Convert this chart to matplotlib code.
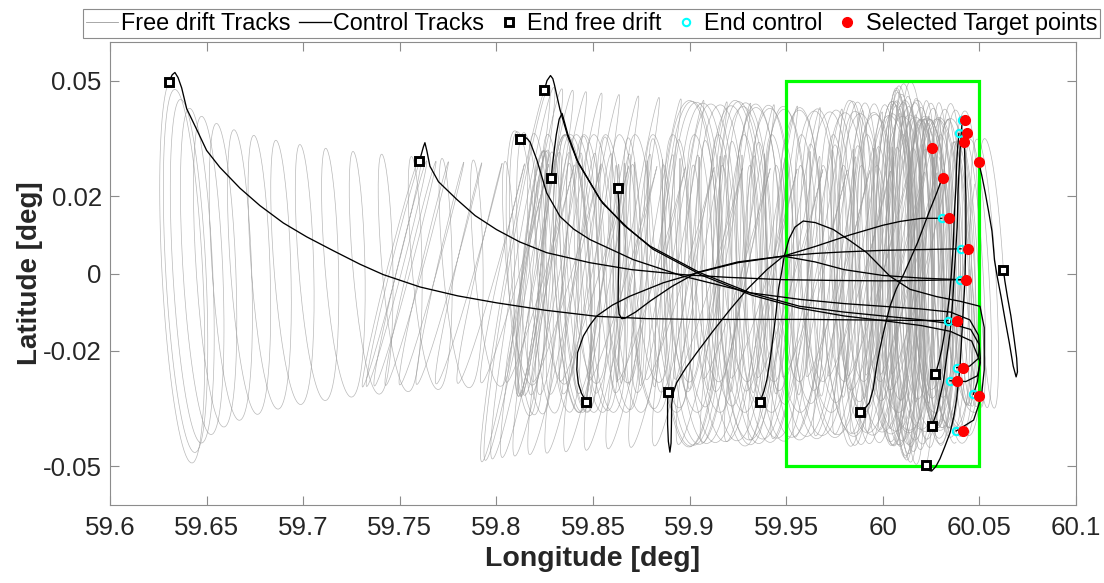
import numpy as np
import matplotlib

matplotlib.use("Agg")
import matplotlib.pyplot as plt
from matplotlib.lines import Line2D
from matplotlib.patches import Rectangle

plt.rcParams["font.family"] = ["Liberation Sans", "DejaVu Sans"]

# station-keeping window
box_lon = [59.95, 60.05]
box_lat = [-0.05, 0.05]

# end of free drift, one per track
end_drift_lon = [59.6305, 59.7601, 59.8122, 59.8248, 59.8284, 59.8628, 59.8464,
                 59.8888, 59.9364, 59.9882, 60.0272, 60.0255, 60.0222, 60.0624]
end_drift_lat = [0.0497, 0.0291, 0.0349, 0.0475, 0.0247, 0.0222, -0.0332,
                 -0.0306, -0.0332, -0.0359, -0.0261, -0.0395, -0.0497, 0.0010]

# free drift description: mean longitude at start, duration [days],
# time of the drift turn-around (fraction), share of the run spent near the start,
# inclination at start/end [deg] and how late it grows, longitude swing and tilt
# relative to inclination, branch at the end point
drift_start_lon = [60.00, 60.02, 60.03, 60.02, 60.04, 60.03, 60.045,
                   60.03, 60.04, 60.045, 60.04, 60.042, 60.035, 60.04]
drift_days = [30, 26, 22, 24, 22, 20, 21, 22, 16, 13, 9, 10, 11, 8]
drift_turn = [1.0, 1.0, 1.0, 1.0, 0.9, 1.0, 0.95, 1.0, 1.0, 1.0, 0.6, 0.6, 0.62, 0.0]
drift_dwell = [0.7, 0.8, 0.8, 0.8, 0.0, 0.8, 0.0, 0.6, 0.7, 0.6, 0.0, 0.0, 0.0, 0.0]
incl_start = [0.028, 0.026, 0.032, 0.040, 0.030, 0.034, 0.036,
              0.040, 0.040, 0.042, 0.040, 0.044, 0.044, 0.034]
incl_end = [0.0505, 0.0295, 0.037, 0.049, 0.032, 0.028, 0.036,
            0.045, 0.045, 0.045, 0.040, 0.045, 0.050, 0.035]
incl_growth = [4.0, 1.0, 1.0, 1.0, 1.0, 1.0, 1.0, 1.0, 1.0, 1.0, 1.0, 1.0, 1.0, 1.0]
lon_swing = [0.21, 0.08, 0.20, 0.10, 0.15, 0.05, 0.25, 0.33, 0.30, 0.20, 0.20, 0.20, 0.15, 0.15]
lon_tilt = [0.10, -0.5, 0.10, -0.35, -0.20, 0.0, 0.10, 0.0, 0.05, 0.0, 0.10, 0.0, 0.05, 0.10]
end_branch = [-1, 1, 1, -1, 1, 1, 1, -1, 1, 1, -1, 1, 1, 1]

# control tracks, from end of free drift to end of control
control_lon = [
    [59.6305, 59.6322, 59.6336, 59.6352, 59.6371, 59.6397, 59.6449, 59.650, 59.6569,
     59.6673, 59.6776, 59.6897, 59.7018, 59.7156, 59.7294, 59.7415, 59.7605, 59.7800,
     59.8001, 59.825, 59.852, 59.878, 59.9036, 59.935, 59.962, 60.000, 60.0337],
    [59.7601, 59.7612, 59.7622, 59.763, 59.7640, 59.7656, 59.770, 59.7795, 59.789,
     59.800, 59.812, 59.826, 59.8484, 59.870, 59.8967, 59.920, 59.9485, 59.975,
     60.000, 60.020, 60.0401],
    [59.8122, 59.8135, 59.8148, 59.8162, 59.8175, 59.8209, 59.826, 59.8329, 59.840,
     59.8484, 59.8708, 59.8967, 59.9313, 59.957, 59.980, 60.000, 60.020, 60.035,
     60.045, 60.0495, 60.0505, 60.049, 60.0469],
    [59.8248, 59.8262, 59.828, 59.8292, 59.830, 59.8329, 59.837, 59.8416, 59.8536,
     59.866, 59.8795, 59.9054, 59.9313, 59.957, 59.980, 60.000, 60.020, 60.035,
     60.0455, 60.050, 60.0495, 60.045, 60.0382],
    [59.8284, 59.8290, 59.8297, 59.831, 59.8325, 59.8340, 59.8370, 59.8425, 59.855,
     59.868, 59.881, 59.9065, 59.932, 59.957, 59.980, 60.000, 60.020, 60.035,
     60.046, 60.0505, 60.049, 60.043, 60.0348],
    [59.8628, 59.8634, 59.8636, 59.8634, 59.8631, 59.8630, 59.8635, 59.8648, 59.8665,
     59.872, 59.880, 59.891, 59.904, 59.925, 59.9485, 59.965, 59.983, 60.000,
     60.009, 60.020, 60.0305],
    [59.8464, 59.8440, 59.8424, 59.8416, 59.842, 59.845, 59.8485, 59.852, 59.860,
     59.869, 59.8864, 59.904, 59.925, 59.9485, 59.965, 59.980, 60.000, 60.020,
     60.0405],
    [59.8888, 59.8886, 59.8886, 59.8890, 59.8898, 59.8904, 59.8906, 59.8907, 59.8915,
     59.8933, 59.898, 59.9036, 59.912, 59.921, 59.930, 59.940, 59.9485, 59.965,
     59.980, 60.000, 60.020, 60.0401],
    [59.9364, 59.9385, 59.940, 59.9418, 59.9433, 59.9448, 59.946, 59.9475, 59.9490,
     59.9515, 59.9545, 59.9588, 59.9650, 59.9744, 59.9830, 59.9917, 60.0037, 60.0141,
     60.0279, 60.040, 60.0503, 60.0525, 60.0525, 60.051, 60.047, 60.0380],
    [59.9882, 59.9915, 59.993, 59.995, 59.9968, 59.9985, 60.0003, 60.0037, 60.0070,
     60.011, 60.0145, 60.018, 60.024, 60.028, 60.0308],
    [60.0272, 60.0290, 60.0305, 60.0318, 60.033, 60.0345, 60.0355, 60.0365, 60.037,
     60.0378, 60.0382, 60.0387, 60.0394],
    [60.0255, 60.0265, 60.0279, 60.0296, 60.0313, 60.0330, 60.0348, 60.0362, 60.037,
     60.0385, 60.039, 60.040, 60.0411],
    [60.0222, 60.0235, 60.0253, 60.0275, 60.0296, 60.0320, 60.0348, 60.0368, 60.0382,
     60.0400, 60.041, 60.0425, 60.043, 60.043, 60.0425, 60.0422],
    [60.0624, 60.0632, 60.0645, 60.0663, 60.068, 60.0693, 60.0697, 60.069, 60.0675,
     60.0655, 60.0633, 60.0612, 60.0593, 60.0578, 60.0572, 60.0565, 60.0548, 60.053,
     60.0512, 60.0496],
]
control_lat = [
    [0.0497, 0.0515, 0.0521, 0.0508, 0.0481, 0.0427, 0.0373, 0.0319, 0.0275,
     0.0221, 0.0176, 0.0131, 0.0095, 0.0059, 0.0024, -0.0003, -0.0035, -0.0058,
     -0.0076, -0.0095, -0.0111, -0.0117, -0.0119, -0.0119, -0.0119, -0.0121, -0.0122],
    [0.0291, 0.0310, 0.0328, 0.0339, 0.0318, 0.0278, 0.0238, 0.0192, 0.0150,
     0.0114, 0.0082, 0.0054, 0.0028, 0.0010, -0.0003, -0.0010, -0.0016, -0.0018,
     -0.0019, -0.0018, -0.0016],
    [0.0349, 0.0354, 0.0354, 0.0348, 0.034, 0.0295, 0.0209, 0.0148, 0.0115,
     0.0088, 0.0036, -0.0007, -0.005, -0.0067, -0.0078, -0.0085, -0.0092, -0.0100,
     -0.0120, -0.0160, -0.0220, -0.0280, -0.0313],
    [0.0475, 0.050, 0.0513, 0.0505, 0.049, 0.0425, 0.0355, 0.0295, 0.0192,
     0.0125, 0.0071, 0.0002, -0.005, -0.0085, -0.0100, -0.0110, -0.0120, -0.0130,
     -0.0145, -0.0185, -0.0220, -0.0240, -0.0244],
    [0.0247, 0.028, 0.031, 0.036, 0.040, 0.0415, 0.0360, 0.0285, 0.0182,
     0.0118, 0.0063, -0.0005, -0.0056, -0.009, -0.0110, -0.0122, -0.0135, -0.0150,
     -0.0175, -0.0230, -0.0265, -0.0280, -0.0278],
    [0.0222, 0.0180, 0.0120, 0.0050, -0.002, -0.008, -0.0105, -0.0117, -0.0116,
     -0.0100, -0.0070, -0.0033, 0.0003, 0.0030, 0.0045, 0.0070, 0.0100, 0.0125,
     0.0135, 0.0143, 0.0143],
    [-0.0332, -0.0310, -0.0285, -0.0249, -0.0205, -0.0162, -0.0133, -0.011, -0.0082,
     -0.0059, -0.0024, 0.0002, 0.0028, 0.0045, 0.0052, 0.0056, 0.0060, 0.0062,
     0.0064],
    [-0.0306, -0.0340, -0.0390, -0.0435, -0.0463, -0.0440, -0.0390, -0.0340, -0.0310,
     -0.0283, -0.0245, -0.0206, -0.0150, -0.0093, -0.0040, 0.0010, 0.0045, 0.0030,
     0.0010, -0.0005, -0.0012, -0.0016],
    [-0.0332, -0.0305, -0.0275, -0.0220, -0.0162, -0.0100, -0.0041, 0.0000, 0.0045,
     0.0090, 0.0120, 0.0136, 0.0132, 0.0114, 0.0085, 0.0054, -0.0007, -0.0041,
     -0.0060, -0.0072, -0.0085, -0.0140, -0.0250, -0.0320, -0.0380, -0.0408],
    [-0.0359, -0.0345, -0.0335, -0.0300, -0.0240, -0.0195, -0.0154, -0.0085, -0.0040,
     0.0000, 0.0040, 0.0080, 0.0160, 0.0210, 0.0248],
    [-0.0261, -0.0230, -0.0197, -0.0160, -0.0119, -0.0060, 0.0000, 0.0075, 0.0150,
     0.0220, 0.0280, 0.0325, 0.0363],
    [-0.0395, -0.0380, -0.0360, -0.0320, -0.0283, -0.0220, -0.0154, -0.0070, 0.0000,
     0.0120, 0.0220, 0.0320, 0.0397],
    [-0.0497, -0.0510, -0.0512, -0.0500, -0.0480, -0.0450, -0.0413, -0.0370, -0.0326,
     -0.0240, -0.0150, -0.0020, 0.0100, 0.0200, 0.0290, 0.0340],
    [0.0010, -0.0020, -0.0060, -0.0110, -0.0170, -0.0220, -0.0255, -0.0268, -0.0240,
     -0.0180, -0.0120, -0.0060, -0.0010, 0.0035, 0.0071, 0.0110, 0.0160, 0.0210,
     0.0255, 0.0288],
]

# end of control
end_control_lon = [60.0411, 60.0394, 60.0422, 60.0496, 60.0308, 60.0305,
                   60.0405, 60.0401, 60.0337, 60.0382, 60.0348, 60.0469, 60.0380]
end_control_lat = [0.0397, 0.0363, 0.0340, 0.0288, 0.0248, 0.0143,
                   0.0064, -0.0016, -0.0122, -0.0244, -0.0278, -0.0313, -0.0408]

# selected target points
target_lon = [60.0425, 60.0434, 60.0422, 60.0255, 60.0496, 60.0310, 60.0343,
              60.0441, 60.0431, 60.0386, 60.0417, 60.0386, 60.0496, 60.0417]
target_lat = [0.0397, 0.0363, 0.0340, 0.0326, 0.0288, 0.0248, 0.0143,
              0.0064, -0.0016, -0.0122, -0.0244, -0.0278, -0.0318, -0.0408]


def mean_drift(i, t, mean_end):
    """Mean longitude: parabolic drift, optionally lingering near the start."""
    n = drift_days[i]
    ls = drift_start_lon[i]
    if drift_turn[i] >= 1.0:
        u = t / n
        w = drift_dwell[i]
        g = (1 - w) * (1 - (1 - u) ** 2) + w * (3 * u ** 2 - 2 * u ** 3)
        return ls + (mean_end - ls) * g
    tv = drift_turn[i] * n
    k = (ls - mean_end) / (tv ** 2 - (n - tv) ** 2)
    return ls - k * tv ** 2 + k * (t - tv) ** 2


def free_drift_track(i, per_day=80):
    """Daily inclination/eccentricity ellipse riding on the longitude drift."""
    n = drift_days[i]
    t = np.linspace(0.0, n, int(n * per_day) + 1)
    b = incl_start[i] + (incl_end[i] - incl_start[i]) * (t / n) ** incl_growth[i]
    ra, rs = lon_swing[i], lon_tilt[i]
    b1 = incl_end[i]
    th_end = end_branch[i] * np.arccos(np.clip(end_drift_lat[i] / b1, -1, 1))
    mean_end = end_drift_lon[i] - ra * b1 * np.sin(th_end) + rs * b1 * np.cos(th_end)
    th = th_end - 2 * np.pi * (n - t)
    lon = mean_drift(i, t, mean_end) + ra * b * np.sin(th) - rs * b * np.cos(th)
    lat = b * np.cos(th)
    return lon, lat


fig = plt.figure(figsize=(11.04, 5.83), dpi=100)
ax = fig.add_axes([110 / 1104, 1 - 505 / 583, 966 / 1104, 463 / 583])

for i in range(len(end_drift_lon)):
    lon, lat = free_drift_track(i)
    ax.plot(lon, lat, color="#9a9a9a", lw=0.5, alpha=0.7, zorder=1)

ax.add_patch(Rectangle((box_lon[0], box_lat[0]), box_lon[1] - box_lon[0],
                       box_lat[1] - box_lat[0], fill=False, ec="#00ff00", lw=2.3, zorder=2))

for lon, lat in zip(control_lon, control_lat):
    ax.plot(lon, lat, color="black", lw=0.95, zorder=3)

ax.plot(end_drift_lon, end_drift_lat, ls="none", marker="s", ms=5.6, mfc="white",
        mec="black", mew=2.1, zorder=4)
ax.plot(end_control_lon, end_control_lat, ls="none", marker="o", ms=5.3, mfc="none",
        mec="cyan", mew=1.5, zorder=5)
ax.plot(target_lon, target_lat, ls="none", marker="o", ms=7, mfc="red", mec="red",
        zorder=6)

ax.set_xlim(59.6, 60.1)
ax.set_ylim(-0.06, 0.06)
ax.set_xticks(np.arange(59.6, 60.1001, 0.05))
ax.set_xticklabels(["59.6", "59.65", "59.7", "59.75", "59.8", "59.85", "59.9",
                    "59.95", "60", "60.05", "60.1"])
ax.set_yticks([-0.05, -0.02, 0, 0.02, 0.05])
ax.set_yticklabels(["-0.05", "-0.02", "0", "0.02", "0.05"])
ax.tick_params(direction="in", length=6.5, width=0.8, color="#8c8c8c",
               labelcolor="#262626", labelsize=18.6, top=True, right=True)
ax.tick_params(axis="x", pad=8)
ax.tick_params(axis="y", pad=6)
for sp in ax.spines.values():
    sp.set_color("#8c8c8c")
    sp.set_linewidth(0.8)

ax.set_xlabel("Longitude [deg]", fontsize=20.5, fontweight="bold", color="#262626", labelpad=4)
ax.set_ylabel("Latitude [deg]", fontsize=20, fontweight="bold", color="#262626", labelpad=0)

handles = [
    Line2D([], [], color="#9a9a9a", lw=0.6),
    Line2D([], [], color="black", lw=0.95),
    Line2D([], [], ls="none", marker="s", ms=5.6, mfc="white", mec="black", mew=2.1),
    Line2D([], [], ls="none", marker="o", ms=5.3, mfc="none", mec="cyan", mew=1.5),
    Line2D([], [], ls="none", marker="o", ms=7, mfc="red", mec="red"),
]
labels = ["Free drift Tracks", "Control Tracks", "End free drift", "End control",
          "Selected Target points"]
leg = fig.legend(handles, labels, ncol=5, loc="upper right",
                 bbox_to_anchor=(1100 / 1104, 1 - 9 / 583), fontsize=16.8,
                 frameon=True, fancybox=False, edgecolor="#8c8c8c", framealpha=1,
                 handlelength=1.37, handletextpad=0.1, columnspacing=0.37,
                 borderpad=0.12, borderaxespad=0)
leg.get_frame().set_linewidth(0.8)

fig.savefig("out.png", dpi=100)
